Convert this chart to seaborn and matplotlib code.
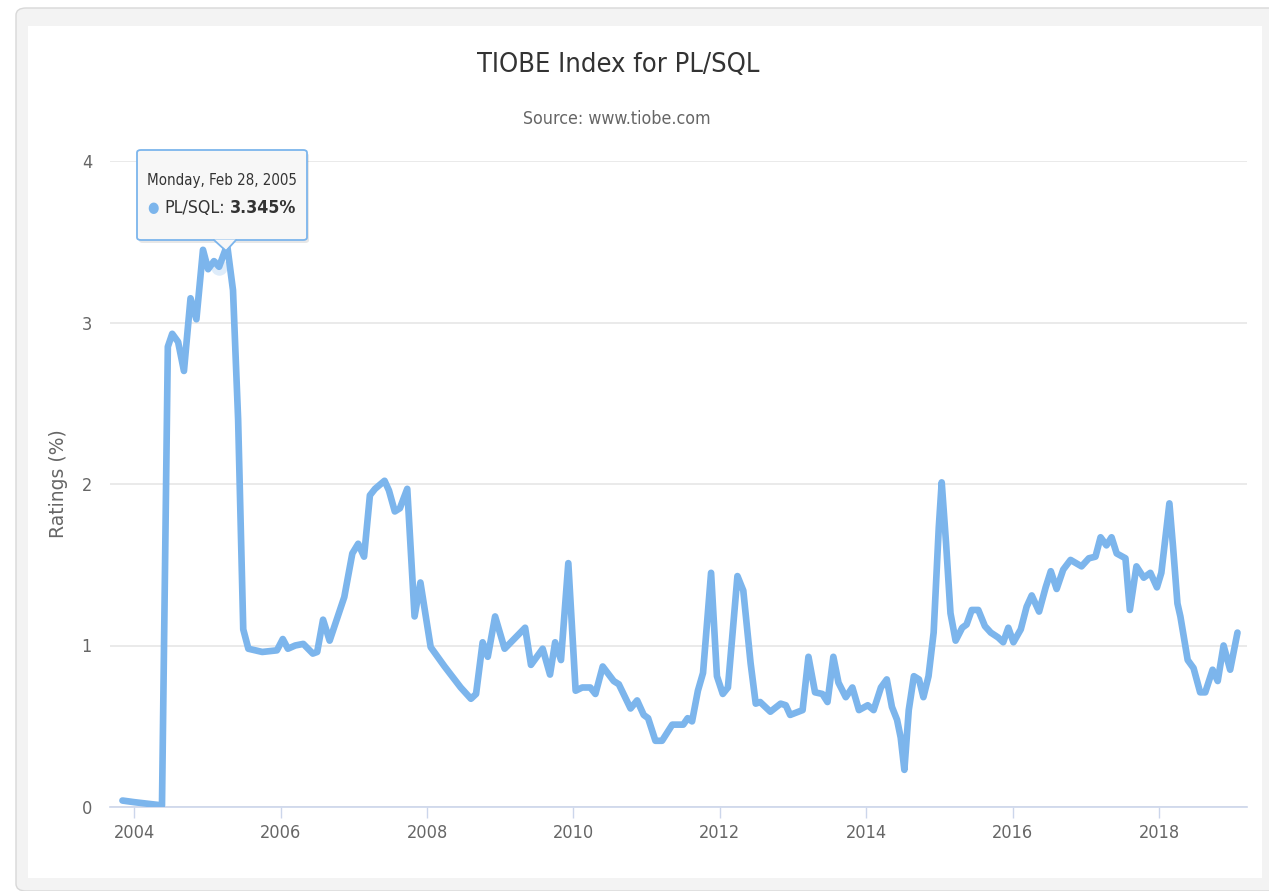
import numpy as np
import matplotlib
matplotlib.use("Agg")
import matplotlib.pyplot as plt
import seaborn as sns
import pandas as pd
from matplotlib.patches import FancyBboxPatch, Rectangle, Polygon

# ---------------- data ----------------
years = [2003.84, 2004.00, 2004.19, 2004.38, 2004.46, 2004.52, 2004.60, 2004.68, 2004.77,
         2004.85, 2004.94, 2005.01, 2005.09, 2005.16, 2005.27, 2005.35, 2005.42, 2005.49,
         2005.56, 2005.75, 2005.95, 2006.03, 2006.10, 2006.20, 2006.31, 2006.44, 2006.50,
         2006.58, 2006.67, 2006.87, 2006.98, 2007.06, 2007.14, 2007.22, 2007.29, 2007.42,
         2007.48, 2007.56, 2007.63, 2007.73, 2007.83, 2007.91, 2008.05, 2008.24, 2008.46,
         2008.60, 2008.67, 2008.76, 2008.83, 2008.93, 2009.06, 2009.34, 2009.42, 2009.58,
         2009.68, 2009.75, 2009.83, 2009.93, 2010.03, 2010.12, 2010.23, 2010.30, 2010.40,
         2010.55, 2010.62, 2010.78, 2010.87, 2010.96, 2011.02, 2011.12, 2011.21, 2011.35,
         2011.50, 2011.56, 2011.62, 2011.70, 2011.77, 2011.88, 2011.96, 2012.04, 2012.11,
         2012.24, 2012.32, 2012.42, 2012.49, 2012.55, 2012.69, 2012.83, 2012.90, 2012.96,
         2013.13, 2013.21, 2013.30, 2013.40, 2013.47, 2013.55, 2013.62, 2013.72, 2013.81,
         2013.90, 2014.02, 2014.10, 2014.20, 2014.28, 2014.35, 2014.42, 2014.47, 2014.52,
         2014.58, 2014.65, 2014.72, 2014.78, 2014.85, 2014.92, 2014.99, 2015.03, 2015.09,
         2015.15, 2015.22, 2015.31, 2015.37, 2015.44, 2015.53, 2015.62, 2015.70, 2015.80,
         2015.87, 2015.94, 2016.01, 2016.11, 2016.19, 2016.26, 2016.36, 2016.45, 2016.52,
         2016.60, 2016.69, 2016.79, 2016.94, 2017.04, 2017.13, 2017.20, 2017.28, 2017.35,
         2017.42, 2017.54, 2017.60, 2017.69, 2017.79, 2017.88, 2017.97, 2018.03, 2018.14,
         2018.19, 2018.25, 2018.29, 2018.39, 2018.47, 2018.56, 2018.63, 2018.73, 2018.80,
         2018.88, 2018.97, 2019.07]
ratings = [0.04, 0.03, 0.02, 0.01, 2.85, 2.93, 2.88, 2.70, 3.15,
           3.02, 3.45, 3.33, 3.38, 3.345, 3.48, 3.20, 2.40, 1.10,
           0.98, 0.96, 0.97, 1.04, 0.98, 1.00, 1.01, 0.95, 0.96,
           1.16, 1.03, 1.30, 1.57, 1.63, 1.55, 1.93, 1.97, 2.02,
           1.96, 1.83, 1.85, 1.97, 1.18, 1.39, 0.99, 0.87, 0.74,
           0.67, 0.70, 1.02, 0.93, 1.18, 0.98, 1.11, 0.88, 0.98,
           0.82, 1.02, 0.91, 1.51, 0.72, 0.74, 0.74, 0.70, 0.87,
           0.78, 0.76, 0.61, 0.66, 0.57, 0.55, 0.41, 0.41, 0.51,
           0.51, 0.55, 0.53, 0.72, 0.83, 1.45, 0.81, 0.70, 0.74,
           1.43, 1.34, 0.89, 0.64, 0.65, 0.59, 0.64, 0.63, 0.57,
           0.60, 0.93, 0.71, 0.70, 0.65, 0.93, 0.77, 0.68, 0.74,
           0.60, 0.63, 0.60, 0.74, 0.79, 0.62, 0.54, 0.43, 0.23,
           0.60, 0.81, 0.79, 0.68, 0.81, 1.08, 1.73, 2.01, 1.63,
           1.20, 1.03, 1.11, 1.13, 1.22, 1.22, 1.12, 1.08, 1.05,
           1.02, 1.11, 1.02, 1.10, 1.24, 1.31, 1.21, 1.36, 1.46,
           1.35, 1.47, 1.53, 1.49, 1.54, 1.55, 1.67, 1.62, 1.67,
           1.57, 1.54, 1.22, 1.49, 1.42, 1.45, 1.36, 1.45, 1.88,
           1.61, 1.26, 1.18, 0.91, 0.86, 0.71, 0.71, 0.85, 0.78,
           1.00, 0.85, 1.08]
year_ticks = [2004, 2006, 2008, 2010, 2012, 2014, 2016, 2018]
rating_ticks = [0, 1, 2, 3, 4]

title = "TIOBE Index for PL/SQL"
subtitle = "Source: www.tiobe.com"
tip_date = "Monday, Feb 28, 2005"
tip_year = 2005.16
tip_value = 3.345

df = pd.DataFrame({"year": years, "rating": ratings})

# ---------------- figure ----------------
W, H = 1269, 891
sns.set_theme(style="white")
plt.rcParams['font.family'] = ['DejaVu Sans']
plt.rcParams['font.stretch'] = 'condensed'

fig = plt.figure(figsize=(W / 100, H / 100), dpi=100)
fig.patch.set_facecolor("white")

def fx(x):
    return x / W

def fy(y):
    return 1 - y / H

# grey page frame + white chart panel
fig.patches.append(FancyBboxPatch((fx(16), fy(891)), fx(1300), fy(8) - fy(891),
                                  boxstyle="round,pad=0,rounding_size=0.008",
                                  transform=fig.transFigure, facecolor="#f3f3f3",
                                  edgecolor="#d8d8d8", lw=1, zorder=-2))
fig.patches.append(Rectangle((fx(28), fy(878)), fx(1262) - fx(28), fy(26) - fy(878),
                             transform=fig.transFigure, facecolor="white",
                             edgecolor="none", zorder=-1))

ax = fig.add_axes([fx(110), fy(807), fx(1247) - fx(110), fy(161) - fy(807)])
ax.set_facecolor("none")
ax.set_zorder(1)

sns.lineplot(data=df, x="year", y="rating", ax=ax, color="#7cb5ec", lw=4.8,
             estimator=None, solid_joinstyle="round", solid_capstyle="round", zorder=3)

ax.set_xlim(2003.67, 2019.2)
ax.set_ylim(0, 4)
ax.set_xticks(year_ticks)
ax.set_xticklabels([str(y) for y in year_ticks])
ax.set_yticks(rating_ticks)
ax.set_yticklabels([str(v) for v in rating_ticks])
ax.yaxis.grid(True, color="#e6e6e6", lw=1.2)
ax.xaxis.grid(False)
for s in ["top", "right", "left"]:
    ax.spines[s].set_visible(False)
ax.spines["bottom"].set_color("#ccd6eb")
ax.spines["bottom"].set_linewidth(1.2)
ax.tick_params(axis="x", direction="out", length=8, width=1, color="#ccd6eb",
               labelsize=13, labelcolor="#666666", pad=4, bottom=True)
ax.tick_params(axis="y", length=0, labelsize=13, labelcolor="#666666", pad=13)
ax.set_xlabel("")
ax.set_ylabel("Ratings (%)", fontsize=13.5, color="#666666", fontstretch="normal",
              labelpad=10)

# hover marker
ax.scatter([tip_year], [tip_value], s=140, color="#7cb5ec", alpha=0.25, lw=0, zorder=4)

fig.text(fx(618), fy(65), title, ha="center", va="center", fontsize=19.5, color="#333333")
fig.text(fx(617), fy(119), subtitle, ha="center", va="center", fontsize=12.8, color="#666666")

# tooltip
shadow = FancyBboxPatch((fx(139), fy(243)), fx(307) - fx(137), fy(150) - fy(240),
                        boxstyle="round,pad=0,rounding_size=0.003", transform=fig.transFigure,
                        facecolor="#00000018", edgecolor="none", zorder=9)
fig.patches.append(shadow)
tip = FancyBboxPatch((fx(137), fy(240)), fx(307) - fx(137), fy(150) - fy(240),
                     boxstyle="round,pad=0,rounding_size=0.003", transform=fig.transFigure,
                     facecolor="#f7f7f7", edgecolor="#7cb5ec", lw=1.3, zorder=10)
fig.patches.append(tip)
fig.patches.append(Polygon([(fx(214), fy(239.5)), (fx(236), fy(239.5)), (fx(226), fy(250))],
                           closed=True, transform=fig.transFigure, facecolor="#f7f7f7",
                           edgecolor="none", zorder=11))
fig.lines.append(plt.Line2D([fx(214), fx(226), fx(236)], [fy(240), fy(251), fy(240)],
                            transform=fig.transFigure, color="#7cb5ec", lw=1.3, zorder=12))
fig.text(fx(147), fy(181), tip_date, ha="left", va="center", fontsize=10.8,
         color="#333333", zorder=13)
fig.text(fx(147), fy(208), "\u25cf", ha="left", va="center", fontsize=10.5,
         color="#7cb5ec", zorder=13)
lab = fig.text(fx(164), fy(208), "PL/SQL:", ha="left", va="center", fontsize=12.8,
               color="#333333", zorder=13)
bb = lab.get_window_extent(renderer=fig.canvas.get_renderer())
fig.text(fx(bb.x1 + 5), fy(208), f"{tip_value}%", ha="left", va="center", fontsize=12.8,
         color="#333333", fontweight="bold", zorder=13)

fig.savefig("out.png", dpi=100)
